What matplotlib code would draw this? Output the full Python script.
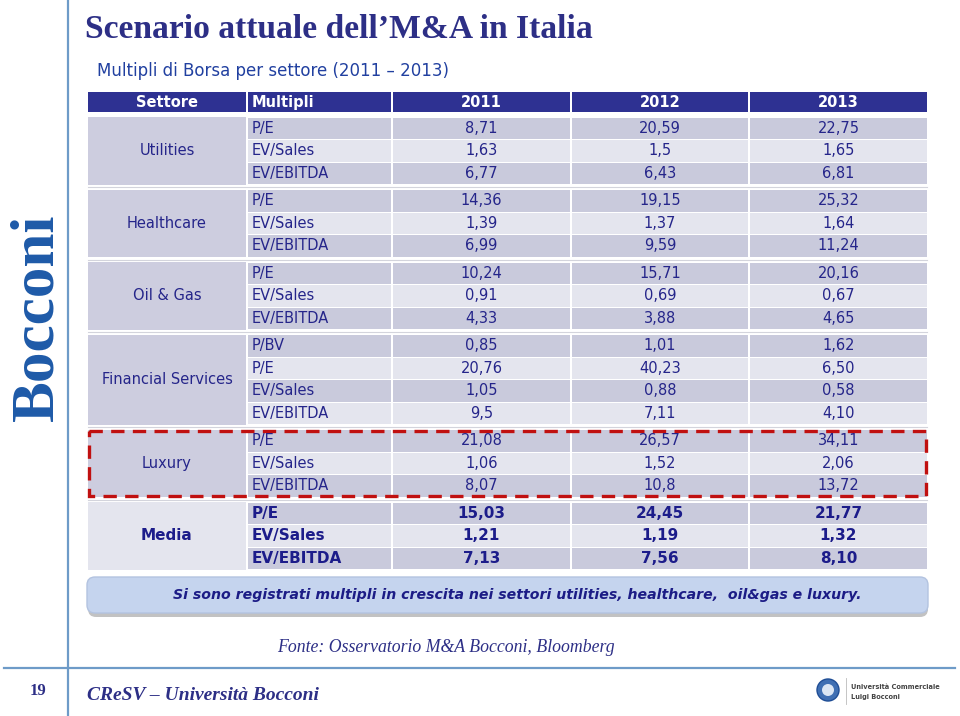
import matplotlib
matplotlib.use("Agg")
import matplotlib.pyplot as plt
from matplotlib.patches import Rectangle, FancyBboxPatch, Circle

# table data
sectors = ["Utilities", "Healthcare", "Oil & Gas", "Financial Services", "Luxury", "Media"]
multiples = [
    ["P/E", "EV/Sales", "EV/EBITDA"],
    ["P/E", "EV/Sales", "EV/EBITDA"],
    ["P/E", "EV/Sales", "EV/EBITDA"],
    ["P/BV", "P/E", "EV/Sales", "EV/EBITDA"],
    ["P/E", "EV/Sales", "EV/EBITDA"],
    ["P/E", "EV/Sales", "EV/EBITDA"],
]
years = ["2011", "2012", "2013"]
v2011 = ["8,71", "1,63", "6,77", "14,36", "1,39", "6,99", "10,24", "0,91", "4,33",
         "0,85", "20,76", "1,05", "9,5", "21,08", "1,06", "8,07", "15,03", "1,21", "7,13"]
v2012 = ["20,59", "1,5", "6,43", "19,15", "1,37", "9,59", "15,71", "0,69", "3,88",
         "1,01", "40,23", "0,88", "7,11", "26,57", "1,52", "10,8", "24,45", "1,19", "7,56"]
v2013 = ["22,75", "1,65", "6,81", "25,32", "1,64", "11,24", "20,16", "0,67", "4,65",
         "1,62", "6,50", "0,58", "4,10", "34,11", "2,06", "13,72", "21,77", "1,32", "8,10"]
headers = ["Settore", "Multipli"] + years

NAVY = "#2e3192"
TXT = "#25258a"
DARK = "#c9cadc"
LIGHT = "#e4e5ee"
SECT = "#cdcddf"

fig = plt.figure(figsize=(9.6, 7.16), dpi=100)
ax = fig.add_axes([0, 0, 1, 1])
ax.set_xlim(0, 960)
ax.set_ylim(716, 0)
ax.axis("off")

# slide frame
ax.plot([68, 68], [0, 716], color="#6e9bc8", lw=1.6)
ax.plot([4, 955], [668, 668], color="#6e9bc8", lw=1.6)
ax.text(37, 317, "Bocconi", rotation=90, ha="center", va="center", fontsize=44,
        fontweight="bold", family="Liberation Serif", color="#1e5aa8")

ax.text(85, 30, "Scenario attuale dell\u2019M&A in Italia", ha="left", va="center",
        fontsize=24.2, fontweight="bold", family="Liberation Serif", color="#2d2f86")
ax.text(97, 71, "Multipli di Borsa per settore (2011 \u2013 2013)", ha="left", va="center",
        fontsize=12, family="DejaVu Sans", color="#2140a0")

# columns
cols = [(88, 246), (248, 391), (393, 570), (572, 748), (750, 927)]
for i, (x0, x1) in enumerate(cols):
    ax.add_patch(Rectangle((x0, 92), x1 - x0, 20, facecolor=NAVY, edgecolor="none"))
    if i == 1:
        ax.text(x0 + 4, 102.5, headers[i], ha="left", va="center", color="white",
                fontsize=10.5, fontweight="bold")
    else:
        ax.text((x0 + x1) / 2, 102.5, headers[i], ha="center", va="center", color="white",
                fontsize=10.5, fontweight="bold")

ROW_H = 22.5
GAP = 5
y = 117
k = 0
vals = [v2011, v2012, v2013]
for g, sec in enumerate(sectors):
    n = len(multiples[g])
    bold = sec == "Media"
    fw = "bold" if bold else "normal"
    fs = 11 if bold else 10.5
    col = "#1c1c8a" if bold else TXT
    sx0, sx1 = cols[0]
    ax.add_patch(Rectangle((sx0, y), sx1 - sx0, n * ROW_H,
                           facecolor=LIGHT if bold else SECT, edgecolor="none"))
    ax.text((sx0 + sx1) / 2, y + n * ROW_H / 2, sec, ha="center", va="center",
            color=col, fontsize=fs, fontweight=fw)
    for r in range(n):
        ry = y + r * ROW_H
        fc = DARK if r % 2 == 0 else LIGHT
        for c in range(1, 5):
            x0, x1 = cols[c]
            ax.add_patch(Rectangle((x0, ry + 0.5), x1 - x0, ROW_H - 1,
                                   facecolor=fc, edgecolor="none"))
        ax.text(cols[1][0] + 4, ry + ROW_H / 2, multiples[g][r], ha="left", va="center",
                color=col, fontsize=fs, fontweight=fw)
        for c in range(3):
            x0, x1 = cols[c + 2]
            ax.text((x0 + x1) / 2, ry + ROW_H / 2, vals[c][k], ha="center", va="center",
                    color=col, fontsize=fs, fontweight=fw)
        k += 1
    y += n * ROW_H
    if g < len(sectors) - 1:
        ax.plot([88, 927], [y + GAP / 2, y + GAP / 2], color="#d3d4dc", lw=0.8)
    if sec == "Luxury":
        lux_bottom = y
    y += GAP

# red dashed highlight around Luxury
lux_top = 117 + sum(len(m) for m in multiples[:4]) * ROW_H + 4 * GAP
ax.add_patch(Rectangle((89, lux_top + 1), 926 - 89, lux_bottom - lux_top - 2, fill=False,
                       edgecolor="#c01010", lw=2.4, linestyle=(0, (4, 2.5))))

# note box
ax.add_patch(FancyBboxPatch((88, 580), 840, 37, boxstyle="round,pad=0,rounding_size=8",
                            facecolor="#9a9a9a", edgecolor="none", alpha=0.6))
ax.add_patch(FancyBboxPatch((87, 577), 841, 36, boxstyle="round,pad=0,rounding_size=8",
                            facecolor="#c5d4ee", edgecolor="#b3c3e0", lw=1))
ax.text(517, 595.5, "Si sono registrati multipli in crescita nei settori utilities, healthcare,  oil&gas e luxury.",
        ha="center", va="center", fontsize=10.2, fontweight="bold", style="italic",
        color="#1c1c86")

ax.text(446, 647, "Fonte: Osservatorio M&A Bocconi, Bloomberg", ha="center", va="center",
        fontsize=12.8, style="italic", family="Liberation Serif", color="#2d2f86")

# footer
ax.text(38, 691, "19", ha="center", va="center", fontsize=12, fontweight="bold",
        family="Liberation Serif", color="#2d2f86")
ax.text(87, 696, "CReSV \u2013 Universit\u00e0 Bocconi", ha="left", va="center", fontsize=14,
        style="italic", fontweight="bold", family="Liberation Serif", color="#2d2f86")
ax.add_patch(Circle((828, 690), 11, facecolor="#3f6fb3", edgecolor="#1e4d95", lw=1))
ax.add_patch(Circle((828, 690), 6, facecolor="#dbe6f4", edgecolor="none"))
ax.plot([846, 846], [678, 704], color="#bbbbbb", lw=0.6)
ax.text(851, 687, "Universit\u00e0 Commerciale", ha="left", va="center", fontsize=4.8,
        fontweight="bold", color="#444444")
ax.text(851, 697, "Luigi Bocconi", ha="left", va="center", fontsize=4.8,
        fontweight="bold", color="#444444")

fig.savefig("out.png", dpi=100)
